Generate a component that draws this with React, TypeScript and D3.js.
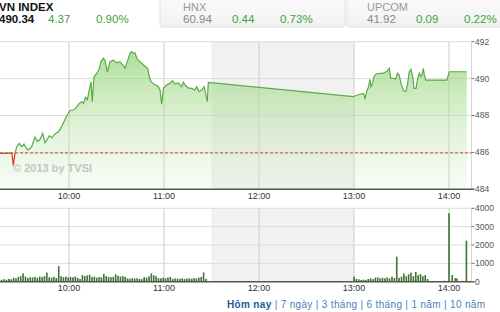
import React from "react";
import * as d3 from "d3";

// ---- Data ----
const lineTimes = [
  "9:16:24","9:19:36","9:22:42","9:24:00","9:24:48","9:25:54","9:27:00","9:28:36","9:30:06","9:31:36",
  "9:32:48","9:34:18","9:36:24","9:38:30","9:40:00","9:41:42","9:43:24","9:44:48","9:46:18","9:47:30",
  "9:49:18","9:51:12","9:53:12","9:54:54","9:56:48","9:58:30","10:00:36","10:02:18","10:03:48","10:05:12",
  "10:06:30","10:08:00","10:09:06","10:10:30","10:11:36","10:12:48","10:13:54","10:14:42","10:15:48","10:17:30",
  "10:19:00","10:20:12","10:21:42","10:22:42","10:24:12","10:25:54","10:28:00","10:30:06","10:32:12","10:33:54",
  "10:35:24","10:36:48","10:38:30","10:39:36","10:40:36","10:41:42","10:42:48","10:43:48","10:44:48","10:46:54",
  "10:48:24","10:49:42","10:50:42","10:51:48","10:53:12","10:54:48","10:56:24","10:57:30","10:58:30","10:59:36",
  "11:01:42","11:03:48","11:05:18","11:07:00","11:09:00","11:11:12","11:12:12","11:13:54","11:15:18","11:17:30",
  "11:19:36","11:20:42","11:22:06","11:23:48","11:25:18","11:26:18","11:27:18","11:28:00",
  "12:59:36","13:01:42","13:03:48","13:05:54","13:07:00","13:08:00","13:09:00","13:10:06","13:10:42","13:11:48",
  "13:12:36","13:13:54","13:16:24","13:18:30","13:20:42","13:22:18","13:23:12","13:24:48","13:26:18","13:27:24",
  "13:28:30","13:29:48","13:31:18","13:32:48","13:33:54","13:34:54","13:36:00","13:37:06","13:37:54","13:39:12",
  "13:40:12","13:41:18","13:42:06","13:42:54","13:43:48","13:44:24","13:45:18","13:58:36","14:00:12","14:11:12",
];
const lineValues = [
  485.98,485.95,485.97,485.95,485.3,485.95,486.31,486.49,486.3,486.45,
  486.25,486.13,486.3,486.82,486.6,486.7,487.03,486.53,486.7,486.9,
  486.8,487.0,487.12,487.31,487.66,487.97,488.26,488.3,488.35,488.51,
  488.66,488.75,488.66,488.99,488.85,489.38,489.83,488.75,490.1,490.28,
  490.5,490.92,491.1,491.0,490.37,490.92,491.0,490.85,490.92,490.75,
  490.56,490.92,491.37,491.46,491.37,491.4,491.1,491.0,490.92,490.75,
  490.64,490.55,490.1,489.83,489.74,489.65,489.56,489.38,488.62,489.47,
  489.65,489.74,489.89,489.7,489.77,489.56,489.8,489.6,489.5,489.47,
  489.38,489.56,489.29,489.38,489.56,489.2,488.75,489.8,
  489.02,489.1,489.15,489.2,488.93,489.3,489.5,489.96,489.56,489.74,
  490.1,490.25,490.28,490.3,490.38,490.56,490.01,490.01,489.98,490.3,
  490.2,489.7,489.35,489.3,489.74,490.37,490.5,490.1,489.47,489.47,
  490.0,490.3,490.12,490.2,490.56,490.2,489.92,489.92,490.37,490.37,
];
const referenceValue = 485.97;

const morningVolStart = "9:16";
const afternoonVolStart = "13:00";
const volStepMinutes = 1.5;
const morningVolumes = [
  120,100,140,110,150,130,220,180,260,300,450,280,200,240,230,260,210,280,250,300,
  500,240,220,260,200,850,300,250,280,230,260,240,280,210,150,360,300,340,380,250,
  280,220,260,240,420,300,260,240,270,400,320,280,300,260,180,160,200,170,190,150,
  140,250,220,300,450,350,300,200,180,220,190,230,260,150,180,170,160,190,150,170,
  180,160,200,170,220,260,500,150,
];
const afternoonVolumes = [
  270,150,130,90,110,100,150,180,140,220,235,180,210,190,230,180,270,200,1360,210,
  280,450,300,400,490,300,530,350,420,300,360,150,
];
const lateVolTimes = ["13:55","13:57","13:58","14:00","14:02","14:04","14:05","14:11"];
const lateVolValues = [40,50,40,3730,365,200,180,2235];

const hourTicks = ["10:00", "11:00", "12:00", "13:00", "14:00"];
const priceTicks = [484, 486, 488, 490, 492];
const volumeTicks = [0, 1000, 2000, 3000, 4000];
const lunchBreak = ["11:30", "13:00"];

const headerIndices = [
  { name: "VN INDEX", value: "490.34", change: "4.37", pct: "0.90%" },
  { name: "HNX", value: "60.94", change: "0.44", pct: "0.73%" },
  { name: "UPCOM", value: "41.92", change: "0.09", pct: "0.22%" },
];
const periodLinks = ["Hôm nay", "7 ngày", "3 tháng", "6 tháng", "1 năm", "10 năm"];
const watermark = "© 2013 by TVSI";

// ---- Helpers ----
const parseT = (s: string) => {
  const p = s.split(":").map(Number);
  return p[0] * 60 + p[1] + (p[2] || 0) / 60;
};

const FONT = "'Liberation Sans', Arial, sans-serif";

export default function App() {
  const W = 500, H = 312;
  const x = d3.scaleLinear().domain([600, 840]).range([69, 449]);
  const plotLeft = 0, plotRight = 471.5;
  const yP = d3.scaleLinear().domain([484, 492]).range([189.3, 41.7]);
  const yV = d3.scaleLinear().domain([0, 4000]).range([281.7, 208.3]);

  const pts = lineTimes.map((t, i) => ({ t: parseT(t), v: lineValues[i] }));
  const line = d3.line<any>().x((d) => x(d.t)).y((d) => yP(d.v));
  const area = d3.area<any>().x((d) => x(d.t)).y0(yP(484)).y1((d) => yP(d.v));

  const vols: { t: number; v: number }[] = [];
  morningVolumes.forEach((v, i) => vols.push({ t: parseT(morningVolStart) + i * volStepMinutes, v }));
  afternoonVolumes.forEach((v, i) => vols.push({ t: parseT(afternoonVolStart) + i * volStepMinutes, v }));
  lateVolTimes.forEach((t, i) => vols.push({ t: parseT(t), v: lateVolValues[i] }));

  const refY = yP(referenceValue);
  const lunchX0 = x(parseT(lunchBreak[0]));
  const lunchX1 = x(parseT(lunchBreak[1]));
  const green = "#3aa53a";

  const boxX = [0, 160, 347];
  const textX = [-1, 183, 367];

  return (
    <svg width={W} height={H} style={{ position: "fixed", left: 0, top: 0, background: "#fff" }} fontFamily={FONT}>
      <defs>
        <linearGradient id="fillG" x1="0" y1={yP(492)} x2="0" y2={yP(484)} gradientUnits="userSpaceOnUse">
          <stop offset="0" stopColor="rgb(145,210,115)" stopOpacity={0.8} />
          <stop offset="1" stopColor="rgb(215,240,205)" stopOpacity={0.2} />
        </linearGradient>
        <linearGradient id="boxG" x1="0" y1="0" x2="0" y2="1">
          <stop offset="0" stopColor="#fbfbfb" />
          <stop offset="1" stopColor="#f1f1f1" />
        </linearGradient>
        <clipPath id="above"><rect x={0} y={0} width={W} height={refY} /></clipPath>
        <clipPath id="below"><rect x={0} y={refY} width={W} height={60} /></clipPath>
      </defs>

      {/* Header */}
      {headerIndices.map((d, i) => (
        <g key={d.name}>
          {i > 0 && (
            <rect x={boxX[i]} y={-2} width={i === 1 ? 185 : 155} height={29} fill="url(#boxG)" stroke="#e2e2e2" rx={2} />
          )}
          <text x={textX[i]} y={10.7} fontSize={i === 0 ? 11.5 : 11} fontWeight={i === 0 ? "bold" : "normal"} fill={i === 0 ? "#111" : "#999"}>
            {d.name}
          </text>
          <text x={textX[i]} y={23.3} fontSize={11.5} fontWeight={i === 0 ? "bold" : "normal"} fill={i === 0 ? "#111" : "#888"}>
            {d.value}
          </text>
          <text x={textX[i] + 49} y={23.3} fontSize={11.5} fill={green}>{d.change}</text>
          <text x={textX[i] + 97} y={23.3} fontSize={11.5} fill={green}>{d.pct}</text>
        </g>
      ))}

      {/* Lunch shading */}
      <rect x={lunchX0} y={yP(492)} width={lunchX1 - lunchX0} height={yP(484) - yP(492)} fill="#f1f1f1" />
      <rect x={lunchX0} y={yV(4000)} width={lunchX1 - lunchX0} height={yV(0) - yV(4000)} fill="#f1f1f1" />

      {/* Main grid */}
      {priceTicks.filter((t) => t !== 484).map((t) => (
        <line key={t} x1={plotLeft} x2={plotRight} y1={yP(t)} y2={yP(t)} stroke="#dcdcdc" strokeWidth={1} />
      ))}
      {hourTicks.map((h) => (
        <line key={h} x1={x(parseT(h))} x2={x(parseT(h))} y1={yP(492)} y2={yP(484)} stroke="#d6d6d6" strokeWidth={1.3} />
      ))}
      <line x1={plotRight} x2={plotRight} y1={yP(492)} y2={yP(484)} stroke="#d6d6d6" />

      {/* Area & line */}
      <path d={area(pts) || ""} fill="url(#fillG)" />
      <line x1={plotLeft} x2={plotRight} y1={refY} y2={refY} stroke="#e03a2a" strokeWidth={1} strokeDasharray="3,2" />
      <path d={line(pts) || ""} fill="none" stroke="#5aaa46" strokeWidth={1.2} clipPath="url(#above)" />
      <path d={line(pts) || ""} fill="none" stroke="#d9382a" strokeWidth={1.2} clipPath="url(#below)" />

      <text x={13} y={172} fontSize={11} fontWeight="bold" fill="#c4c4c4">{watermark}</text>

      <line x1={plotLeft} x2={plotRight + 3} y1={yP(484)} y2={yP(484)} stroke="#555" strokeWidth={1.5} />
      {priceTicks.map((t) => (
        <g key={t}>
          <line x1={plotRight} x2={plotRight + 3} y1={yP(t)} y2={yP(t)} stroke="#777" />
          <text x={plotRight + 3.5} y={yP(t)} dy="0.35em" fontSize={8.5} fill="#555">{t}</text>
        </g>
      ))}
      {hourTicks.map((h) => (
        <text key={h} x={x(parseT(h))} y={198.5} fontSize={9} textAnchor="middle" fill="#333">{h}</text>
      ))}

      {/* Volume grid */}
      {volumeTicks.filter((t) => t !== 0).map((t) => (
        <line key={t} x1={plotLeft} x2={plotRight} y1={yV(t)} y2={yV(t)} stroke="#dcdcdc" />
      ))}
      {hourTicks.map((h) => (
        <line key={h} x1={x(parseT(h))} x2={x(parseT(h))} y1={yV(4000)} y2={yV(0)} stroke="#d6d6d6" strokeWidth={1.3} />
      ))}
      <line x1={plotRight} x2={plotRight} y1={yV(4000)} y2={yV(0)} stroke="#d6d6d6" />
      {vols.map((d, i) => (
        <rect key={i} x={x(d.t) - 0.8} y={yV(d.v)} width={1.6} height={yV(0) - yV(d.v)} fill="#3d7530" />
      ))}
      <line x1={plotLeft} x2={plotRight + 3} y1={yV(0)} y2={yV(0)} stroke="#555" strokeWidth={1.5} />
      {volumeTicks.map((t) => (
        <g key={t}>
          <line x1={plotRight} x2={plotRight + 3} y1={yV(t)} y2={yV(t)} stroke="#777" />
          <text x={plotRight + 3.5} y={yV(t)} dy="0.35em" fontSize={8.5} fill="#555">{t}</text>
        </g>
      ))}
      {hourTicks.map((h) => (
        <text key={h} x={x(parseT(h))} y={291} fontSize={9} textAnchor="middle" fill="#333">{h}</text>
      ))}

      {/* Period links */}
      <text x={227} y={308} fontSize={10} textLength={258} lengthAdjust="spacing">
        {periodLinks.map((p, i) => (
          <tspan key={p} fill={i === 0 ? "#1d5c9a" : "#4a80b8"} fontWeight={i === 0 ? "bold" : "normal"}>
            {(i > 0 ? " |  " : "") + p}
          </tspan>
        ))}
      </text>
    </svg>
  );
}
